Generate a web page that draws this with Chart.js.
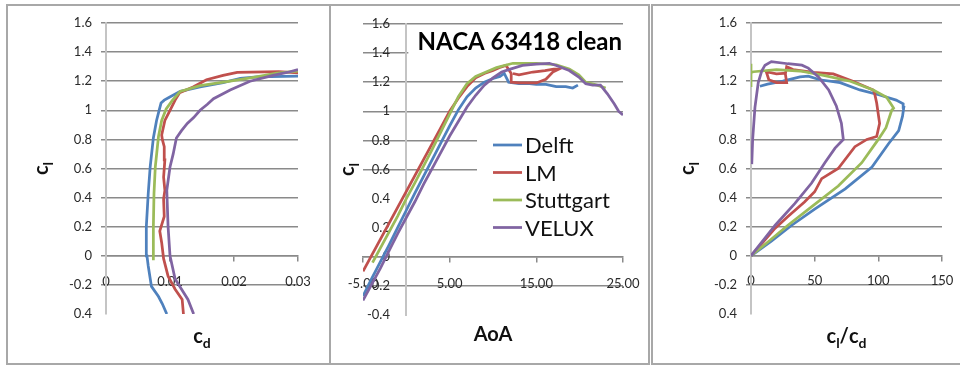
<!DOCTYPE html>
<html>
<head>
<meta charset="utf-8">
<script src="https://cdn.jsdelivr.net/npm/chart.js@4.4.0/dist/chart.umd.min.js"></script>
<style>
  body { margin: 0; background: #fff; }
  #wrap { position: relative; width: 960px; height: 365px; overflow: hidden; }
  .panel { position: absolute; top: 4px; height: 361px; border: 2px solid #a8a8a8; box-sizing: border-box; }
  canvas { position: absolute; }
</style>
</head>
<body>
<div id="wrap">
  <div class="panel" style="left:6px;width:325px"></div>
  <div class="panel" style="left:329px;width:321px"></div>
  <div class="panel" style="left:651px;width:315px"></div>
  <canvas id="polar" width="318" height="356" style="left:9px;top:6px"></canvas>
  <canvas id="lift" width="315" height="356" style="left:332px;top:6px"></canvas>
  <canvas id="ratio" width="304" height="356" style="left:654px;top:6px"></canvas>
</div>
<script>
var seriesNames = ["Delft", "LM", "Stuttgart", "VELUX"];
var seriesColors = ["#4f81bd", "#c0504d", "#9bbb59", "#8064a2"];

// tick labels
var sideYTicks = ["0.4", "-0.2", "0", "0.2", "0.4", "0.6", "0.8", "1", "1.2", "1.4", "1.6"];
var midYTicks = ["-0.4", "-0.2", "0", "0.2", "0.4", "0.6", "0.8", "1", "1.2", "1.4", "1.6"];
var cdTicks = ["0", "0.01", "0.02", "0.03"];
var aoaTicks = ["-5.00", "5.00", "15.00", "25.00"];
var ratioTicks = ["0", "50", "100", "150"];

// drag polars: cd against cl
var cdDelft = [0.0095, 0.0088, 0.0082, 0.0071, 0.0066, 0.0064, 0.0063, 0.0066, 0.0069, 0.0074, 0.0079, 0.0083, 0.0086, 0.0091, 0.0099, 0.0116, 0.0147, 0.0183, 0.021, 0.0236, 0.030];
var clDelftPolar = [-0.4, -0.33, -0.28, -0.21, -0.07, 0, 0.2, 0.43, 0.61, 0.81, 0.93, 1.0, 1.05, 1.07, 1.09, 1.13, 1.16, 1.19, 1.22, 1.23, 1.235];
var cdLM = [0.0121, 0.0119, 0.0108, 0.0097, 0.009, 0.0087, 0.0084, 0.0091, 0.009, 0.0092, 0.009, 0.0092, 0.0091, 0.0088, 0.0087, 0.0092, 0.01, 0.0108, 0.0115, 0.0136, 0.0157, 0.0183, 0.0205, 0.027, 0.0305];
var clLMPolar = [-0.4, -0.3, -0.23, -0.14, -0.02, 0.09, 0.17, 0.27, 0.39, 0.45, 0.54, 0.66, 0.75, 0.8, 0.83, 0.93, 1.0, 1.07, 1.12, 1.16, 1.21, 1.24, 1.26, 1.265, 1.255];
var cdStuttgart = [0.0074, 0.0074, 0.0075, 0.0077, 0.0082, 0.0087, 0.0094, 0.0104, 0.0116, 0.0147, 0.0194, 0.0235, 0.0267, 0.030];
var clStuttgartPolar = [-0.03, 0.2, 0.43, 0.61, 0.82, 0.93, 1.01, 1.07, 1.13, 1.17, 1.2, 1.23, 1.255, 1.27];
var cdVelux = [0.0137, 0.0128, 0.0108, 0.01, 0.0097, 0.0095, 0.01, 0.0105, 0.011, 0.0118, 0.0127, 0.0137, 0.0147, 0.0158, 0.0168, 0.0194, 0.0225, 0.0261, 0.0283, 0.030];
var clVeluxPolar = [-0.4, -0.3, -0.16, 0, 0.2, 0.45, 0.61, 0.7, 0.81, 0.86, 0.91, 0.95, 1.0, 1.04, 1.08, 1.14, 1.2, 1.24, 1.26, 1.28];

// lift curves: angle of attack against cl
var aoaDelft = [-5, -4, -3, -2, -1, 0, 1, 2, 3, 4, 5, 6, 7, 8, 9, 10, 10.8, 11.3, 11.8, 13, 14.2, 15, 16.1, 17.3, 18.4, 19.2, 19.8];
var clDelftLift = [-0.27, -0.15, -0.035, 0.08, 0.2, 0.32, 0.44, 0.555, 0.67, 0.785, 0.9, 1.01, 1.1, 1.16, 1.2, 1.225, 1.24, 1.26, 1.2, 1.19, 1.19, 1.185, 1.185, 1.17, 1.17, 1.16, 1.18];
var aoaLM = [-5, -4, -3, -2, -1, 0, 1, 2, 3, 4, 5, 6, 7, 8, 9, 10, 10.7, 11.5, 12.1, 12.1, 13, 15, 16.1, 16.9, 17.6, 17, 16, 14.6, 13, 12.3];
var clLMLift = [-0.1, 0.01, 0.12, 0.23, 0.34, 0.45, 0.56, 0.67, 0.78, 0.89, 1.0, 1.09, 1.17, 1.23, 1.26, 1.28, 1.3, 1.315, 1.26, 1.2, 1.195, 1.195, 1.22, 1.27, 1.29, 1.29, 1.28, 1.27, 1.25, 1.26];
var aoaStuttgart = [-3.9, -3, -2, -1, 0, 1, 2, 3, 4, 5, 6, 7, 8, 8.8, 10.4, 12.3, 15, 17.3, 18.8, 19.9, 20.7, 22, 23];
var clStuttgartLift = [-0.04, 0.06, 0.17, 0.28, 0.4, 0.51, 0.625, 0.74, 0.86, 0.98, 1.1, 1.19, 1.24, 1.26, 1.3, 1.33, 1.33, 1.32, 1.29, 1.25, 1.2, 1.18, 1.16];
var aoaVelux = [-5, -4, -3, -2, -1, 0, 1, 2, 3, 4, 5, 6, 7, 8, 9, 10, 11, 12, 13.4, 15, 16.5, 17.3, 18.8, 19.9, 20.7, 21.5, 22.4, 23.2, 24, 24.5, 25];
var clVeluxLift = [-0.3, -0.19, -0.08, 0.04, 0.16, 0.27, 0.38, 0.5, 0.61, 0.72, 0.83, 0.93, 1.03, 1.11, 1.18, 1.23, 1.27, 1.29, 1.315, 1.325, 1.33, 1.315, 1.28, 1.235, 1.19, 1.18, 1.18, 1.12, 1.05, 1.0, 0.975];

// glide ratio cl/cd against cl
var ldDelft = [0, 16, 32, 50, 74, 95, 108, 116, 119, 120, 119.5, 114, 101, 85.5, 70, 54, 45, 38.5, 25, 13, 7];
var clDelftRatio = [0, 0.1, 0.21, 0.32, 0.46, 0.61, 0.77, 0.86, 0.96, 1.02, 1.045, 1.07, 1.105, 1.14, 1.19, 1.21, 1.235, 1.23, 1.2, 1.18, 1.165];
var ldLM = [0, 10, 19, 29, 42, 50, 55.5, 68.5, 81.6, 91, 98.7, 101, 98.7, 97, 96, 80, 64.6, 49, 33, 28, 27, 28, 20, 14, 12, 20, 28];
var clLMRatio = [0, 0.1, 0.19, 0.27, 0.37, 0.44, 0.53, 0.6, 0.75, 0.8, 0.82, 0.91, 1.05, 1.12, 1.14, 1.2, 1.25, 1.26, 1.28, 1.3, 1.25, 1.19, 1.19, 1.21, 1.265, 1.25, 1.255];
var ldStuttgart = [0, 14, 29, 48, 68.5, 87, 100, 106, 110.5, 112, 106.5, 96, 78, 57, 38.5, 20, 2, 0, 0, 0];
var clStuttgartRatio = [0, 0.1, 0.21, 0.34, 0.48, 0.64, 0.8, 0.88, 1.0, 1.015, 1.09, 1.14, 1.2, 1.24, 1.27, 1.28, 1.265, 1.26, 1.32, 1.16];
var ldVelux = [0, 19, 34.5, 47.6, 58, 66, 72.5, 71, 67, 61, 53, 45, 40, 29, 16, 11, 8.4, 5.7, 3.1, 1.3, 0.6];
var clVeluxRatio = [0, 0.21, 0.36, 0.5, 0.64, 0.74, 0.8, 0.91, 1.03, 1.14, 1.23, 1.29, 1.31, 1.32, 1.335, 1.31, 1.27, 1.19, 1.02, 0.8, 0.63];

var tickFont = { family: "Lato", size: 13 };
var gridGray = "#8a8a8a";
var axisGray = "#c4c4c4";

function buildSets(xs, ys) {
  return seriesNames.map(function (name, i) {
    return {
      label: name,
      data: xs[i].map(function (x, k) { return { x: x, y: ys[i][k] }; }),
      borderColor: seriesColors[i],
      backgroundColor: seriesColors[i],
      borderWidth: 2.75,
      pointRadius: 0,
      showLine: true,
      tension: 0,
      order: seriesNames.length - i
    };
  });
}

function gridColor(hidden) {
  return function (ctx) {
    if (ctx.tick && hidden.some(function (v) { return Math.abs(ctx.tick.value - v) < 1e-6; })) {
      return "rgba(0,0,0,0)";
    }
    return gridGray;
  };
}

// bold text with subscript parts, centred on cx
function drawRich(ctx, parts, cx, baseY) {
  var big = "bold 20px Lato", small = "bold 14px Lato";
  var w = 0;
  parts.forEach(function (p) { ctx.font = p[1] ? small : big; w += ctx.measureText(p[0]).width; });
  var x = cx - w / 2;
  ctx.textAlign = "left";
  ctx.textBaseline = "alphabetic";
  parts.forEach(function (p) {
    ctx.font = p[1] ? small : big;
    ctx.fillText(p[0], x, baseY + (p[1] ? 5 : 0));
    x += ctx.measureText(p[0]).width;
  });
}

function axisTitles(cfg) {
  return {
    id: "axisTitles",
    afterDraw: function (chart) {
      var ctx = chart.ctx, a = chart.chartArea;
      ctx.save();
      ctx.fillStyle = "#111";
      drawRich(ctx, cfg.xTitle, (a.left + a.right) / 2, a.bottom + cfg.xGap);
      ctx.translate(a.left - cfg.yGap, (a.top + a.bottom) / 2);
      ctx.rotate(-Math.PI / 2);
      drawRich(ctx, [["c", false], ["l", true]], 0, 0);
      ctx.restore();
    }
  };
}

// heading box and legend inside the lift plot
var liftDecor = {
  id: "liftDecor",
  afterDraw: function (chart) {
    var ctx = chart.ctx, a = chart.chartArea;
    var zeroX = chart.scales.x.getPixelForValue(0);
    ctx.save();
    ctx.fillStyle = "#fff";
    ctx.fillRect(zeroX + 2, a.top + 3, a.right - zeroX - 2, 30);
    ctx.fillStyle = "#000";
    ctx.font = "bold 24px Lato";
    ctx.textAlign = "right";
    ctx.textBaseline = "alphabetic";
    ctx.fillText("NACA 63418 clean", a.right - 1, a.top + 26);

    var lx = a.left + 114;
    ctx.fillStyle = "#fff";
    ctx.fillRect(lx, a.top + 101, a.right - lx, 120);
    ctx.font = "22px Lato";
    ctx.textAlign = "left";
    ctx.textBaseline = "middle";
    chart.data.datasets.forEach(function (ds, i) {
      var y = a.top + 121 + i * 27.5;
      ctx.strokeStyle = ds.borderColor;
      ctx.lineWidth = 2.75;
      ctx.beginPath();
      ctx.moveTo(a.left + 130, y);
      ctx.lineTo(a.left + 159, y);
      ctx.stroke();
      ctx.fillStyle = "#111";
      ctx.fillText(ds.label, a.left + 162, y + 1);
    });
    ctx.restore();
  }
};

function xAxis(min, max, step, labels, pad) {
  return {
    type: "linear",
    position: { y: 0 },
    min: min, max: max,
    ticks: {
      stepSize: step, padding: pad, color: "#2a2a2a", font: tickFont,
      maxRotation: 0, autoSkip: false,
      callback: function (v, i) { return labels[i]; }
    },
    grid: { drawOnChartArea: false, drawTicks: true, tickLength: 5, color: gridGray, lineWidth: 1.5 },
    border: { display: true, color: gridGray, width: 1.5 },
    afterFit: function (s) {
      s.height = 0;
      s.paddingLeft = 0;
      s.paddingRight = 0;
    }
  };
}

function sideYAxis() {
  return {
    type: "linear",
    position: "left",
    min: -0.4, max: 1.6,
    ticks: {
      stepSize: 0.2, padding: 9, color: "#2a2a2a", font: tickFont,
      callback: function (v, i) { return sideYTicks[i]; }
    },
    grid: { color: gridColor([-0.4]), lineWidth: 1.5, drawTicks: true, tickLength: 5 },
    border: { display: true, color: axisGray, width: 2 },
    afterFit: function (s) { s.width = 97; }
  };
}

var baseOptions = {
  animation: false,
  responsive: false,
  devicePixelRatio: 1,
  plugins: { legend: { display: false }, tooltip: { enabled: false } }
};

new Chart("polar", {
  type: "scatter",
  data: { datasets: buildSets([cdDelft, cdLM, cdStuttgart, cdVelux], [clDelftPolar, clLMPolar, clStuttgartPolar, clVeluxPolar]) },
  options: Object.assign({}, baseOptions, {
    layout: { padding: { left: 0, top: 17, right: 29, bottom: 48 } },
    scales: { x: xAxis(0, 0.03, 0.01, cdTicks, 13), y: sideYAxis() }
  }),
  plugins: [axisTitles({ xTitle: [["c", false], ["d", true]], xGap: 29, yGap: 58 })]
});

new Chart("lift", {
  type: "scatter",
  data: { datasets: buildSets([aoaDelft, aoaLM, aoaStuttgart, aoaVelux], [clDelftLift, clLMLift, clStuttgartLift, clVeluxLift]) },
  options: Object.assign({}, baseOptions, {
    layout: { padding: { left: 31, top: 18, right: 24, bottom: 47 } },
    scales: {
      x: xAxis(-5, 25, 10, aoaTicks, 14),
      y: {
        type: "linear",
        position: "left",
        min: -0.4, max: 1.6,
        ticks: {
          stepSize: 0.2, mirror: true, crossAlign: "far", padding: 4, color: "#2a2a2a", font: tickFont,
          callback: function (v, i) { return midYTicks[i]; }
        },
        grid: { color: gridColor([-0.4, 0.2, 0.4]), lineWidth: 1.5, drawTicks: false },
        border: { display: false },
        afterFit: function (s) { s.width = 0; }
      },
      yZero: {
        type: "linear",
        axis: "y",
        position: { x: 0 },
        min: -0.4, max: 1.6,
        ticks: { display: false },
        grid: { drawOnChartArea: false, drawTicks: false },
        border: { display: true, color: axisGray, width: 2 },
        afterFit: function (s) { s.width = 0; }
      }
    }
  }),
  plugins: [axisTitles({ xTitle: [["AoA", false]], xGap: 26, yGap: 9 }), liftDecor]
});

new Chart("ratio", {
  type: "scatter",
  data: { datasets: buildSets([ldDelft, ldLM, ldStuttgart, ldVelux], [clDelftRatio, clLMRatio, clStuttgartRatio, clVeluxRatio]) },
  options: Object.assign({}, baseOptions, {
    layout: { padding: { left: 0, top: 17, right: 16, bottom: 48 } },
    scales: { x: xAxis(0, 150, 50, ratioTicks, 12), y: sideYAxis() }
  }),
  plugins: [axisTitles({ xTitle: [["c", false], ["l", true], ["/", false], ["c", false], ["d", true]], xGap: 29, yGap: 57 })]
});
</script>
</body>
</html>
